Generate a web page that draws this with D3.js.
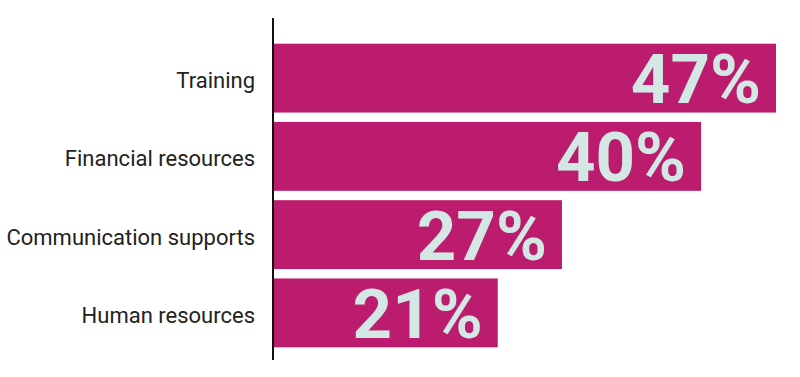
<!DOCTYPE html>
<html>
<head>
<meta charset="utf-8">
<script src="https://cdn.jsdelivr.net/npm/d3@7"></script>
<style>
  html, body { margin: 0; padding: 0; background: #fff; }
  svg { display: block; font-family: Roboto, sans-serif; }
</style>
</head>
<body>
<svg id="chart" width="800" height="377"></svg>
<script>
// data
var categories = ["Training", "Financial resources", "Communication supports", "Human resources"];
var values = [47, 40, 27, 21];

var svg = d3.select("#chart");
var x0 = 273;

var x = d3.scaleLinear()
    .domain([0, 47])
    .range([x0, 776]);

var y = d3.scaleBand()
    .domain(categories)
    .range([39, 352])
    .paddingInner(0.12)
    .paddingOuter(0.06);

var rows = categories.map(function (c, i) { return { cat: c, val: values[i] }; });

// bars
svg.selectAll("rect.bar")
    .data(rows)
    .join("rect")
    .attr("class", "bar")
    .attr("x", x(0))
    .attr("y", d => y(d.cat))
    .attr("width", d => x(d.val) - x(0))
    .attr("height", y.bandwidth())
    .attr("fill", "#bc1c6d");

// value labels
svg.selectAll("text.val")
    .data(rows)
    .join("text")
    .attr("class", "val")
    .attr("x", d => x(d.val) - 15)
    .attr("y", d => y(d.cat) + y.bandwidth() / 2 + 25)
    .attr("text-anchor", "end")
    .attr("font-size", 69)
    .attr("font-weight", "bold")
    .attr("fill", "#d3e8e5")
    .text(d => d.val + "%");

// category labels
svg.selectAll("text.cat")
    .data(rows)
    .join("text")
    .attr("class", "cat")
    .attr("x", 255)
    .attr("y", d => y(d.cat) + y.bandwidth() / 2 + 10)
    .attr("text-anchor", "end")
    .attr("font-size", 22)
    .attr("fill", "#222")
    .text(d => d.cat);

// axis line
svg.append("line")
    .attr("x1", x0).attr("x2", x0)
    .attr("y1", 18).attr("y2", 360)
    .attr("stroke", "#111")
    .attr("stroke-width", 2);
</script>
</body>
</html>
